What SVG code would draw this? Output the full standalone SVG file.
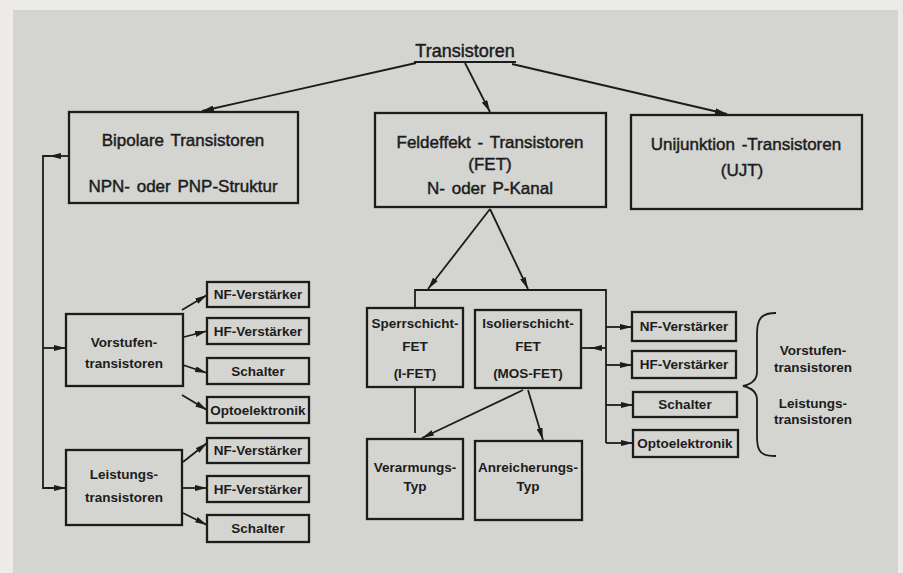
<svg xmlns="http://www.w3.org/2000/svg" width="903" height="573" viewBox="0 0 903 573">
<defs>
<marker id="ah" markerUnits="userSpaceOnUse" markerWidth="12" markerHeight="6" refX="12" refY="3" orient="auto">
<path d="M0,0 L12,3 L0,6 Z" fill="#1c1c1c"/>
</marker>
<style>
.box{fill:none;stroke:#1c1c1c;stroke-width:2.3}
.c{fill:none;stroke:#1c1c1c;stroke-width:1.8}
.a{fill:none;stroke:#1c1c1c;stroke-width:1.8;marker-end:url(#ah)}
text{font-family:"Liberation Sans",Arial,sans-serif;fill:#1c1c1c;text-anchor:middle}
.L{font-size:17px;word-spacing:2px;stroke:#1c1c1c;stroke-width:0.45}
.S{font-size:13.5px;font-weight:bold}
</style>
</defs>
<rect x="0" y="0" width="903" height="573" fill="#ecebe8"/>
<rect x="13" y="10" width="885" height="563" fill="#d4d4d1"/>

<g id="transistoren">
<text x="465" y="57" style="font-size:18px;stroke:#1c1c1c;stroke-width:0.45">Transistoren</text>
<line x1="414" y1="62" x2="516" y2="62" stroke="#1c1c1c" stroke-width="2"/>
</g>

<g id="bipolar">
<rect class="box" x="69" y="112" width="229" height="91"/>
<text class="L" x="183" y="146">Bipolare  Transistoren</text>
<text class="L" x="183" y="192">NPN- oder  PNP-Struktur</text>
</g>
<g id="fet">
<rect class="box" x="375" y="113" width="231" height="94"/>
<text class="L" x="490" y="148">Feldeffekt - Transistoren</text>
<text class="L" x="490" y="170">(FET)</text>
<text class="L" x="490" y="194">N- oder P-Kanal</text>
</g>
<g id="ujt">
<rect class="box" x="631" y="115" width="231" height="94"/>
<text class="L" x="746" y="150">Unijunktion -Transistoren</text>
<text class="L" x="742" y="176">(UJT)</text>
</g>

<g id="vorstufen">
<rect class="box" x="66" y="314" width="117" height="72"/>
<text class="S" x="124" y="347">Vorstufen-</text>
<text class="S" x="124" y="368">transistoren</text>
</g>
<g id="leistungs">
<rect class="box" x="66" y="450" width="116" height="75"/>
<text class="S" x="124" y="479">Leistungs-</text>
<text class="S" x="124" y="502">transistoren</text>
</g>

<g id="v-nf"><rect class="box" x="207" y="282" width="102" height="25"/><text class="S" x="258" y="299">NF-Verstärker</text></g>
<g id="v-hf"><rect class="box" x="207" y="318" width="102" height="26"/><text class="S" x="258" y="336">HF-Verstärker</text></g>
<g id="v-sch"><rect class="box" x="207" y="358" width="102" height="26"/><text class="S" x="258" y="376">Schalter</text></g>
<g id="v-opto"><rect class="box" x="207" y="397" width="102" height="26"/><text class="S" x="258" y="415">Optoelektronik</text></g>

<g id="l-nf"><rect class="box" x="207" y="438" width="102" height="25"/><text class="S" x="258" y="455">NF-Verstärker</text></g>
<g id="l-hf"><rect class="box" x="207" y="476" width="102" height="26"/><text class="S" x="258" y="494">HF-Verstärker</text></g>
<g id="l-sch"><rect class="box" x="207" y="515" width="102" height="27"/><text class="S" x="258" y="533">Schalter</text></g>

<g id="sperr">
<rect class="box" x="367" y="308" width="96" height="79"/>
<text class="S" x="415" y="328">Sperrschicht-</text>
<text class="S" x="415" y="351">FET</text>
<text class="S" x="415" y="378">(I-FET)</text>
</g>
<g id="isolier">
<rect class="box" x="475" y="310" width="106" height="78"/>
<text class="S" x="528" y="328">Isolierschicht-</text>
<text class="S" x="528" y="351">FET</text>
<text class="S" x="528" y="378">(MOS-FET)</text>
</g>
<g id="verarmung">
<rect class="box" x="367" y="439" width="96" height="80"/>
<text class="S" x="415" y="472">Verarmungs-</text>
<text class="S" x="415" y="491">Typ</text>
</g>
<g id="anreicherung">
<rect class="box" x="475" y="441" width="107" height="79"/>
<text class="S" x="528" y="472">Anreicherungs-</text>
<text class="S" x="528" y="491">Typ</text>
</g>

<g id="r-nf"><rect class="box" x="632" y="312" width="104" height="29"/><text class="S" x="684" y="331">NF-Verstärker</text></g>
<g id="r-hf"><rect class="box" x="632" y="351" width="104" height="27"/><text class="S" x="684" y="369">HF-Verstärker</text></g>
<g id="r-sch"><rect class="box" x="633" y="392" width="104" height="25"/><text class="S" x="685" y="409">Schalter</text></g>
<g id="r-opto"><rect class="box" x="633" y="430" width="105" height="27"/><text class="S" x="685" y="448">Optoelektronik</text></g>

<g id="brace-label">
<path class="c" d="M776,313 C761,313 757,319 757,334 L757,372 C757,380 752,384 743,386 C752,388 757,392 757,400 L757,437 C757,452 761,456 776,456" stroke-width="2"/>
<text class="S" x="813" y="355">Vorstufen-</text>
<text class="S" x="813" y="372">transistoren</text>
<text class="S" x="813" y="408">Leistungs-</text>
<text class="S" x="813" y="424">transistoren</text>
</g>

<g id="connectors">
<path class="a" d="M416,63 L202,111"/>
<path class="a" d="M465,63 L490,112"/>
<path class="a" d="M512,64 L727,114"/>

<path class="a" d="M69,156 H49"/>
<path class="a" d="M50,156 H43 V488 H66"/>
<path class="a" d="M43,348 H66"/>

<path class="a" d="M182,310 L207,295"/>
<path class="a" d="M184,337 L207,331"/>
<path class="a" d="M183,365 L207,373"/>
<path class="a" d="M182,395 L207,410"/>
<path class="a" d="M183,462 L207,443"/>
<path class="a" d="M182,488 H207"/>
<path class="a" d="M183,513 L207,525"/>

<path class="a" d="M490,209 L428,289"/>
<path class="a" d="M490,209 L528,289"/>
<path class="c" d="M415,308 V290 H606 V443"/>
<path class="a" d="M606,348 H590"/>
<path class="c" d="M592,348 H581"/>
<path class="a" d="M606,327 H632"/>
<path class="a" d="M606,365 H632"/>
<path class="a" d="M606,405 H633"/>
<path class="a" d="M606,443 H633"/>

<path class="c" d="M415,388 V433"/>
<path class="a" d="M523,390 L422,438"/>
<path class="a" d="M528,390 L543,440"/>
</g>
</svg>
